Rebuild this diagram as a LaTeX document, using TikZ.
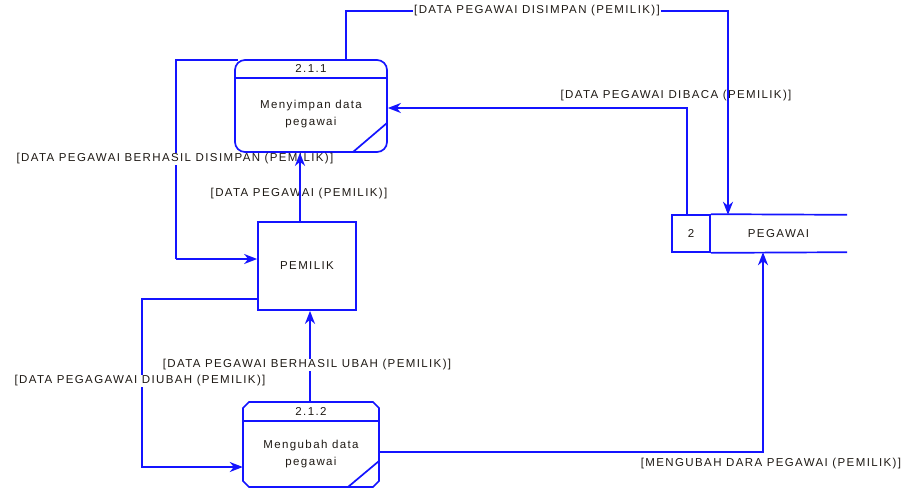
\documentclass[tikz,border=0pt]{standalone}
\usepackage{fontspec}
\setmainfont{Liberation Sans}[LetterSpace=12]
\usetikzlibrary{arrows.meta}
\definecolor{dfdblue}{RGB}{20,20,255}
\definecolor{dfdtext}{RGB}{30,25,20}
\tikzset{
  every node/.style={text=dfdtext,font=\fontsize{11.5}{13}\selectfont},
  shapeline/.style={draw=dfdblue,line width=1.7pt},
  flow/.style={draw=dfdblue,line width=1.7pt,-{Stealth[length=13pt,width=10pt,inset=4pt]}},
  lbl/.style={fill=white,inner sep=1pt},
  txt/.style={inner sep=0pt,align=center},
}
\begin{document}
\begin{tikzpicture}[x=1pt,y=-1pt]
\useasboundingbox (0,0) rectangle (904,488);
% processes and entities
\node[shapeline,rounded corners=10pt,minimum width=152pt,minimum height=92pt,inner sep=0pt] (p1) at (311,106) {};
\draw[shapeline] (235,78) -- (387,78);
\draw[shapeline] (353,152) -- (387,123);
\node[txt] (p1id) at (311,68) {2.1.1};
\node[txt] (p1t) at (311,114) {Menyimpan data\\[4pt]pegawai};

\node[shapeline,minimum width=98pt,minimum height=88pt,inner sep=0pt] (pem) at (307,266) {};
\node[txt] (pemt) at (307,266) {PEMILIK};

\node[minimum width=136pt,minimum height=85pt,inner sep=0pt] (p2) at (311,444.5) {};
\draw[shapeline] (243,408) -- (243,481) -- (249,487) -- (373,487) -- (379,481)
  -- (379,408) -- (373,402) -- (249,402) -- cycle;
\draw[shapeline] (243,421) -- (379,421);
\draw[shapeline] (348,487) -- (379,461);
\node[txt] (p2id) at (311,411) {2.1.2};
\node[txt] (p2t) at (311,454) {Mengubah data\\[4pt]pegawai};

% data store
\node[shapeline,minimum width=38pt,minimum height=37pt,inner sep=0pt] (dsid) at (691,233.5) {2};
\node[minimum width=137pt,minimum height=37pt,inner sep=0pt] (dsname) at (778.5,233.5) {PEGAWAI};
\draw[shapeline] (dsid.north east) -- (dsname.north east);
\draw[shapeline] (dsid.south east) -- (dsname.south east);

% bend points
\coordinate (c1) at (346,11);
\coordinate (c1b) at (728,11);
\coordinate (c2) at (687,108);
\coordinate (c3) at (176,60);
\coordinate (c3b) at (176,259);
\coordinate (c4) at (300,200);
\coordinate (c5) at (142,299);
\coordinate (c5b) at (142,467);
\coordinate (c6) at (310,360);
\coordinate (c7) at (763,452);

% connectors
\draw[flow] (c2 |- dsid.north) -- (c2) -- (p1.east |- c2);
\node[inner sep=1pt] (l2) at (676,96) {[DATA PEGAWAI DIBACA (PEMILIK)]};

\draw[flow] (c1 |- p1.north) -- (c1) -- node[lbl] (l1) {[DATA PEGAWAI DISIMPAN (PEMILIK)]} (c1b) -- (c1b |- dsname.north);

\draw[shapeline] (238,60) -- (c3) -- (c3b);
\node[lbl] (l3) at (175,159) {[DATA PEGAWAI BERHASIL DISIMPAN (PEMILIK)]};
\draw[flow] (c3b) -- (pem.west |- c3b);

\draw[shapeline] (pem.north -| c4) -- (c4);
\node[lbl] (l4) at (299,194) {[DATA PEGAWAI (PEMILIK)]};
\draw[flow] (c4) -- (p1.south -| c4);

\draw[flow] (pem.west |- c5) -- (c5) -- (c5b) -- (p2.west |- c5b);
\node[lbl] (l5) at (140,381) {[DATA PEGAGAWAI DIUBAH (PEMILIK)]};

\draw[flow] (p2.north -| c6) -- (pem.south -| c6);
\node[lbl] (l6) at (307,365) {[DATA PEGAWAI BERHASIL UBAH (PEMILIK)]};

\draw[flow] (p2.east |- c7) -- (c7) -- (c7 |- dsname.south);
\node[inner sep=1pt] (l7) at (771,464) {[MENGUBAH DARA PEGAWAI (PEMILIK)]};
\end{tikzpicture}
\end{document}
